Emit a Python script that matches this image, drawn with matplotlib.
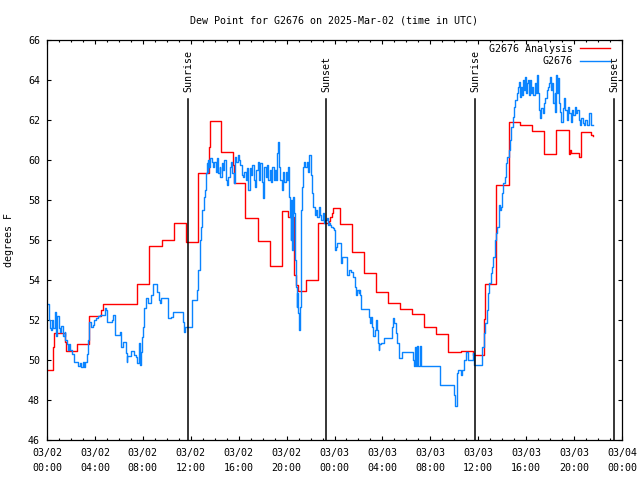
import matplotlib
matplotlib.use("Agg")
import matplotlib.pyplot as plt

# hours since 03/02 00:00 UTC
analysis_hours = [0.0, 0.53, 0.6, 1.48, 1.59, 2.53, 3.53, 4.53, 4.65, 5.59, 6.59, 7.54, 8.54,
                  9.62, 10.6, 11.58, 12.58, 13.55, 13.6, 14.52, 15.5, 15.6, 16.5, 17.59, 18.61,
                  19.59, 20.15, 20.6, 20.8, 20.97, 21.6, 22.6, 23.5, 23.65, 23.8, 23.9, 24.5,
                  25.5, 26.5, 27.5, 28.5, 29.5, 30.5, 31.5, 32.5, 33.5, 34.6, 35.6, 36.5, 36.6,
                  37.5, 38.54, 38.6, 39.5, 40.5, 41.5, 42.5, 43.55, 43.62, 43.75, 44.45, 44.55,
                  45.4, 45.55]
analysis_vals = [49.5, 50.65, 51.33, 50.9, 50.43, 50.78, 52.18, 52.5, 52.8, 52.78, 52.8, 53.78, 55.68,
                 55.98, 56.83, 55.88, 59.33, 60.63, 61.97, 60.42, 59.75, 58.87, 57.1, 55.95, 54.72,
                 57.45, 57.15, 54.25, 53.77, 53.45, 54.0, 56.83, 56.95, 57.15, 57.35, 57.58, 56.8,
                 55.4, 54.35, 53.38, 52.85, 52.55, 52.3, 51.67, 51.3, 50.38, 50.43, 50.25, 52.03, 53.78,
                 58.73, 60.0, 61.88, 61.77, 61.47, 60.28, 61.48, 60.3, 60.5, 60.35, 60.15, 61.38,
                 61.25, 61.2]

obs_hours = [0.0, 0.14, 0.19, 0.25, 0.36, 0.45, 0.53, 0.70, 0.75, 0.81, 0.86, 0.97, 1.03, 1.09,
             1.20, 1.36, 1.47, 1.53, 1.64, 1.75, 1.86, 1.92, 2.09, 2.25, 2.59, 2.75, 2.87, 2.98,
             3.09, 3.20, 3.31, 3.39, 3.48, 3.65, 3.81, 3.92, 4.09, 4.26, 4.42, 4.81, 4.92, 5.04,
             5.43, 5.54, 5.65, 5.70, 6.09, 6.15, 6.20, 6.37, 6.59, 6.65, 6.71, 7.04, 7.26, 7.43,
             7.54, 7.65, 7.74, 7.82, 7.93, 7.99, 8.10, 8.26, 8.43, 8.65, 8.71, 8.82, 9.21, 9.32,
             9.43, 9.54, 10.13, 10.38, 10.49, 11.32, 11.43, 11.55,
             12.13, 12.52, 12.63, 12.74, 12.86, 12.97, 13.08, 13.19, 13.3, 13.36, 13.41, 13.47,
             13.53, 13.64, 13.75, 13.86, 13.97, 14.08, 14.19, 14.3, 14.41, 14.47, 14.58, 14.69,
             14.8, 14.91, 15.02, 15.13, 15.24, 15.36, 15.47, 15.58, 15.69, 15.8, 15.91, 16.02,
             16.13, 16.25, 16.36, 16.47, 16.58, 16.69, 16.8, 16.91, 17.02, 17.13, 17.24, 17.36,
             17.47, 17.58, 17.69, 17.8, 17.91, 18.02, 18.14, 18.25, 18.36, 18.47, 18.58, 18.69,
             18.8, 18.91, 19.02, 19.13, 19.24, 19.3, 19.35, 19.47, 19.58, 19.69, 19.8, 19.91,
             20.02, 20.13, 20.24, 20.3, 20.35, 20.41, 20.46, 20.57, 20.63, 20.68, 20.74, 20.8,
             20.85, 20.91, 20.96, 21.02, 21.07, 21.13, 21.18, 21.24, 21.29, 21.4, 21.46, 21.57,
             21.68, 21.79, 21.9, 22.01, 22.12, 22.24, 22.35, 22.46, 22.57, 22.68, 22.79, 22.9,
             23.01, 23.12, 23.24, 23.35, 23.46, 23.51, 23.62, 23.73, 23.84, 23.95, 24.01, 24.06,
             24.12, 24.18, 24.51, 24.57, 24.62, 25.07, 25.18, 25.24, 25.4, 25.51, 25.68, 25.79,
             25.9, 26.01, 26.07, 26.12, 26.23, 26.91, 26.96, 27.07, 27.13, 27.19, 27.35, 27.46,
             27.57, 27.63, 27.69, 27.74, 27.85, 28.13, 28.8, 28.85, 28.96, 29.13, 29.24, 29.35,
             29.41, 29.63, 30.52, 30.63, 30.69, 30.8, 30.85, 30.96, 31.13, 31.19, 32.8, 33.97,
             34.02, 34.24, 34.35, 34.52, 34.63, 34.85, 34.96, 35.13, 35.57, 35.68,
             36.31, 36.48, 36.59, 36.7, 36.81, 36.92, 37.03, 37.15, 37.26, 37.37, 37.48, 37.59,
             37.7, 37.76, 37.81, 37.87, 37.98, 38.09, 38.2, 38.31, 38.42, 38.53, 38.64, 38.76,
             38.87, 38.98, 39.09, 39.2, 39.31, 39.42, 39.48, 39.53, 39.65, 39.7, 39.81, 39.87,
             39.98, 40.04, 40.15, 40.2, 40.32, 40.43, 40.48, 40.6, 40.71, 40.82, 40.87, 40.99,
             41.04, 41.15, 41.26, 41.37, 41.49, 41.6, 41.71, 41.82, 41.93, 41.99, 42.04, 42.15,
             42.26, 42.38, 42.43, 42.49, 42.6, 42.65, 42.71, 42.82, 42.93, 43.04, 43.15, 43.27,
             43.38, 43.49, 43.6, 43.71, 43.82, 43.93, 44.04, 44.15, 44.27, 44.38, 44.49, 44.6,
             44.71, 44.82, 44.94, 45.05, 45.27, 45.38, 45.55]
obs_vals = [52.8, 52.5, 52.0, 51.6, 51.5, 52.0, 51.6, 52.4, 51.2, 51.4, 52.2, 52.0, 51.6, 51.4,
            51.7, 51.2, 51.4, 51.0, 50.8, 50.5, 50.8, 50.5, 50.3, 49.9, 49.7, 49.85, 49.67, 49.9,
            49.67, 49.9, 50.3, 51.0, 51.9, 51.67, 51.75, 52.0, 52.08, 52.2, 52.25, 52.58, 52.5, 51.92,
            52.0, 52.25, 51.75, 51.25, 51.4, 51.1, 50.67, 50.9, 50.33, 49.9, 50.2, 50.47, 50.25, 50.17,
            49.83, 50.83, 49.75, 50.4, 51.17, 51.67, 52.58, 53.08, 52.83, 53.0, 53.25, 53.78, 53.42, 53.0,
            52.83, 53.08, 52.08, 52.17, 52.38, 51.92, 51.42, 51.67,
            53.0, 53.5, 54.5, 56.0, 56.67, 57.5, 58.17, 58.5, 59.33, 59.83, 59.42, 60.0,
            59.67, 60.08, 59.92, 59.67, 59.92, 59.42, 60.08, 59.33, 59.67, 59.17, 59.83, 59.5,
            60.0, 59.0, 58.75, 59.17, 59.67, 59.92, 59.33, 58.83, 60.17, 59.92, 60.25, 60.0,
            59.75, 59.25, 59.17, 59.42, 59.0, 59.58, 58.5, 59.58, 59.25, 59.75, 59.0, 58.67,
            59.5, 59.92, 59.0, 59.83, 58.92, 58.08, 59.67, 59.17, 59.75, 59.0, 59.5, 58.92,
            59.67, 59.0, 59.5, 59.0, 60.33, 60.92, 59.67, 59.0, 58.5, 59.42, 58.92, 59.42,
            59.0, 59.67, 58.17, 57.17, 56.0, 58.0, 55.5, 58.17, 57.33, 56.17, 55.0, 53.67,
            52.67, 53.33, 52.33, 52.0, 51.5, 52.67, 55.5, 57.5, 58.67, 59.67, 59.92, 59.67,
            59.92, 59.42, 60.25, 59.25, 58.33, 57.67, 57.25, 57.5, 57.17, 57.67, 57.25, 57.0,
            57.33, 56.83, 57.0, 57.08, 56.75, 56.83, 56.75, 56.67, 56.58, 56.5, 56.0, 55.5,
            55.67, 55.83, 55.42, 54.83, 55.17, 54.25, 54.42, 54.5, 54.42, 54.17, 53.67, 53.25,
            53.5, 53.33, 53.5, 53.25, 52.55, 52.17, 51.83, 52.17, 51.67, 51.22, 51.5, 52.0,
            51.5, 50.83, 50.5, 50.8, 50.83, 51.08, 51.67, 52.08, 51.83, 51.33, 50.83, 50.5,
            50.08, 50.38, 50.0, 49.7, 50.67, 49.7, 50.7, 49.7, 50.7, 49.7, 48.75, 48.25,
            47.7, 49.33, 49.5, 49.25, 49.5, 50.0, 50.42, 50.0, 50.33, 49.75,
            50.67, 51.33, 51.83, 52.5, 53.33, 53.83, 54.33, 54.67, 55.17, 56.0, 56.33, 56.67,
            57.17, 57.75, 57.5, 57.67, 58.33, 58.83, 59.17, 59.83, 60.17, 60.5, 61.0, 61.67,
            62.17, 62.67, 63.0, 63.33, 63.67, 63.92, 63.17, 63.67, 63.25, 64.0, 63.5, 64.17,
            63.33, 63.83, 64.0, 63.25, 64.0, 63.33, 63.67, 63.25, 63.83, 63.33, 64.25, 63.33,
            62.5, 62.08, 62.58, 62.33, 62.83, 63.08, 63.5, 63.67, 63.83, 64.17, 63.5, 63.83,
            62.83, 63.33, 62.42, 64.25, 63.33, 64.08, 62.83, 62.42, 61.92, 62.58, 63.08, 62.5,
            62.0, 62.67, 62.33, 61.92, 62.5, 62.25, 62.67, 62.33, 62.5, 62.0, 61.75, 62.08,
            61.83, 61.75, 62.0, 61.75, 62.33, 61.75, 61.75]

sun_hours = [11.77, 23.29, 35.73, 47.33]
sun_labels = ["Sunrise", "Sunset", "Sunrise", "Sunset"]

tick_hours = list(range(0, 49, 4))
tick_labels = ["03/02\n00:00", "03/02\n04:00", "03/02\n08:00", "03/02\n12:00", "03/02\n16:00",
               "03/02\n20:00", "03/03\n00:00", "03/03\n04:00", "03/03\n08:00", "03/03\n12:00",
               "03/03\n16:00", "03/03\n20:00", "03/04\n00:00"]

plt.rcParams["font.family"] = ["DejaVu Sans Mono"]
plt.rcParams["font.size"] = 7.2

fig = plt.figure(figsize=(6.4, 4.8), dpi=100)
ax = fig.add_axes([47 / 640, 40 / 480, 575 / 640, 400 / 480])

ax.step(analysis_hours, analysis_vals, where="post", color="#ff0000", lw=1.0, label="G2676 Analysis")
ax.step(obs_hours, obs_vals, where="post", color="#0a84ff", lw=1.0, label="G2676")

for h, lab in zip(sun_hours, sun_labels):
    ax.plot([h, h], [46, 63.05], color="black", lw=1.1)
    ax.text(h, 63.4, lab, rotation=90, ha="center", va="bottom", fontsize=7.2)

ax.set_xlim(0, 48)
ax.set_ylim(46, 66)
ax.set_xticks(tick_hours)
ax.set_xticklabels(tick_labels)
ax.set_xticks(range(0, 49), minor=True)
ax.set_yticks(range(46, 67, 2))
for lbl in ax.get_xticklabels():
    lbl.set_linespacing(1.55)

ax.tick_params(which="both", direction="in", top=True, right=True, width=0.8)
ax.tick_params(which="major", length=3)
ax.tick_params(which="minor", length=1.5)
ax.tick_params(axis="x", pad=6)
ax.tick_params(axis="y", pad=5)
for s in ax.spines.values():
    s.set_linewidth(0.9)

ax.set_title("Dew Point for G2676 on 2025-Mar-02 (time in UTC)", fontsize=7.2, pad=12)
ax.set_ylabel("degrees F")
ax.yaxis.set_label_coords(-0.058, 0.5)

ax.legend(loc="upper right", bbox_to_anchor=(0.979, 0.99), frameon=False, markerfirst=False,
          borderpad=0, borderaxespad=0, handlelength=3.0, handletextpad=0.7, labelspacing=0.25)

fig.savefig("out.png", dpi=100)
